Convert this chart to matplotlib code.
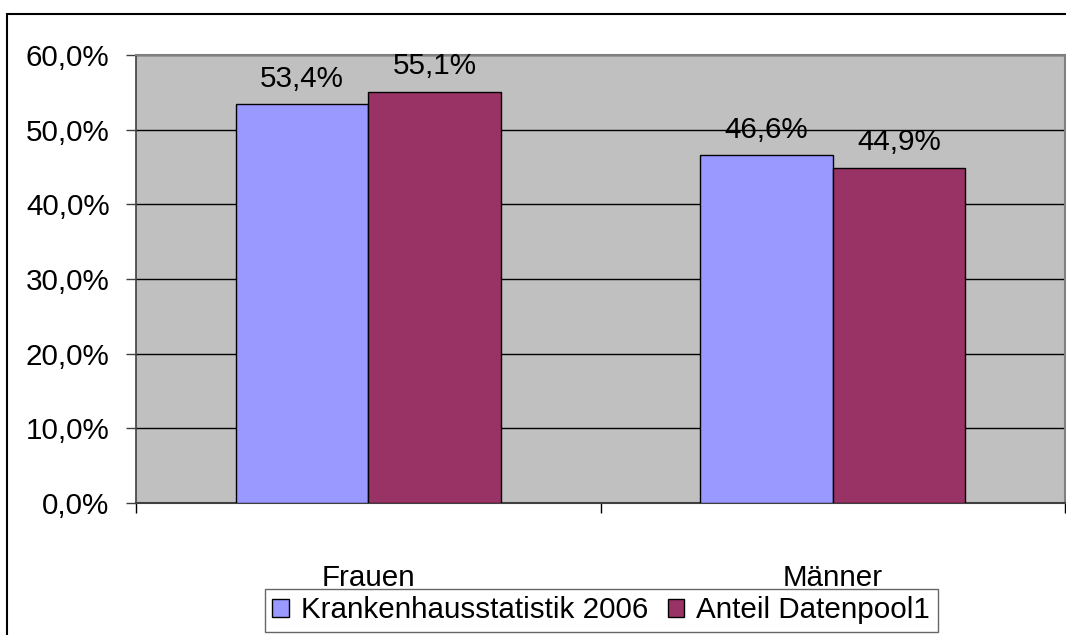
import matplotlib
matplotlib.use("Agg")
import matplotlib.pyplot as plt
from matplotlib.patches import Rectangle
from matplotlib.ticker import FixedLocator, FuncFormatter
import numpy as np

plt.rcParams['font.family'] = ['Liberation Sans', 'DejaVu Sans']

categories = ["Frauen", "Männer"]
series_names = ["Krankenhausstatistik 2006", "Anteil Datenpool1"]
krankenhaus = [53.4, 46.6]
datenpool = [55.1, 44.9]
colors = ["#9999FF", "#993366"]

FS = 21.3
W, H = 1066, 635
fig = plt.figure(figsize=(W / 100, H / 100), dpi=100)
fig.patch.set_facecolor("white")

# outer chart frame (runs off the right and bottom edges)
fig.add_artist(Rectangle((7 / W, -0.05), 1.1, 1 - 14 / H + 0.05,
                         transform=fig.transFigure, fill=False,
                         edgecolor="black", linewidth=1.5))

ax = fig.add_axes([136 / W, 1 - 503 / H, (1065 - 136) / W, (503 - 55) / H])
ax.set_facecolor("#C0C0C0")

x = np.arange(len(categories))
width = 0.285
bars1 = ax.bar(x - width / 2, krankenhaus, width, color=colors[0],
               edgecolor="black", linewidth=1, label=series_names[0], zorder=3)
bars2 = ax.bar(x + width / 2, datenpool, width, color=colors[1],
               edgecolor="black", linewidth=1, label=series_names[1], zorder=3)

for bars, vals in ((bars1, krankenhaus), (bars2, datenpool)):
    for b, v in zip(bars, vals):
        ax.annotate(f"{v:.1f}%".replace(".", ","),
                    (b.get_x() + b.get_width() / 2, v),
                    xytext=(0, 12.5), textcoords="offset points",
                    ha="center", va="baseline", fontsize=FS, zorder=4)

ax.set_ylim(0, 60)
ax.set_xlim(-0.5, 1.5)
ax.yaxis.set_major_locator(FixedLocator(np.arange(0, 61, 10)))
ax.yaxis.set_major_formatter(FuncFormatter(lambda v, p: f"{v:.1f}%".replace(".", ",")))
ax.grid(axis="y", color="black", linewidth=1, zorder=1)
ax.set_axisbelow(True)

# category boundaries as ticks, names centred between them
ax.set_xticks([-0.5, 0.5, 1.5])
ax.set_xticklabels([])
ax.set_xticks(x, minor=True)
ax.set_xticklabels(categories, minor=True)
ax.tick_params(axis="x", which="major", direction="out", length=7, width=1, color="black")
ax.tick_params(axis="x", which="minor", length=0, pad=44, labelsize=FS)
ax.tick_params(axis="y", direction="out", length=7, width=1, color="#404040",
               pad=12, labelsize=FS)

for side in ("top", "right"):
    ax.spines[side].set_color("#808080")
    ax.spines[side].set_linewidth(1.5)
ax.spines["left"].set_color("#404040")
ax.spines["bottom"].set_color("#404040")
ax.spines["left"].set_linewidth(1.2)
ax.spines["bottom"].set_linewidth(1.5)

leg = fig.legend(handles=[bars1, bars2], labels=series_names,
                 loc="upper left", bbox_to_anchor=(265 / W, 1 - 589 / H),
                 ncol=2, frameon=True, fancybox=False, fontsize=FS,
                 handlelength=0.55, handleheight=0.55, handletextpad=0.42,
                 columnspacing=0.65, borderpad=0.25, borderaxespad=0)
leg.get_frame().set_edgecolor("#404040")
leg.get_frame().set_linewidth(1)

fig.savefig("out.png", dpi=100)
